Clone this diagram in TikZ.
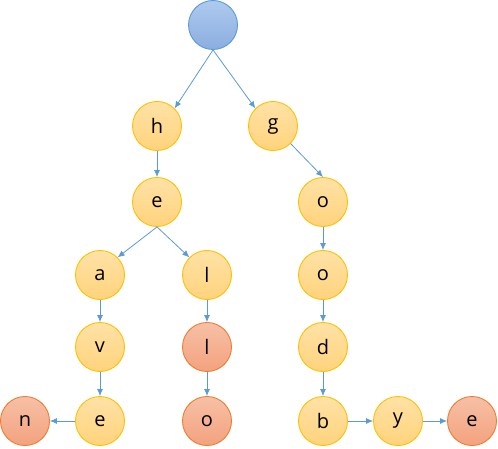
\documentclass[tikz,border=0pt]{standalone}
\usepackage{fontspec}
\setmainfont{Open Sans}
\usetikzlibrary{arrows.meta}
\definecolor{ybd}{HTML}{FFC000}
\definecolor{ytop}{HTML}{FFE2A6}
\definecolor{ybot}{HTML}{FFD37C}
\definecolor{rbd}{HTML}{ED7D31}
\definecolor{rtop}{HTML}{F7C0A6}
\definecolor{rbot}{HTML}{F3A27E}
\definecolor{bbd}{HTML}{5B9BD5}
\definecolor{btop}{HTML}{AECAEE}
\definecolor{bbot}{HTML}{8BADE0}
\definecolor{arr}{HTML}{5B9BD5}
\tikzset{
  base/.style={circle, minimum size=49pt, inner sep=0pt, line width=0.9pt, font=\fontsize{20}{24}\selectfont},
  ynode/.style={base, draw=ybd, top color=ytop, bottom color=ybot},
  rnode/.style={base, draw=rbd, top color=rtop, bottom color=rbot},
  bnode/.style={base, draw=bbd, top color=btop, bottom color=bbot},
  conn/.style={draw=arr, line width=0.8pt, -{Latex[length=7pt,width=6pt]}}
}
\begin{document}
\begin{tikzpicture}[x=1pt,y=-1pt]
\useasboundingbox (0,0) rectangle (498,449);
\node[bnode] (root) at (213,25) {};
\node[ynode] (h) at (157,126) {h};
\node[ynode] (g) at (273,126) {g};
\node[ynode] (e1) at (157,202) {e};
\node[ynode] (o1) at (323,202) {o};
\node[ynode] (a) at (100,275) {a};
\node[ynode] (l1) at (207,275) {l};
\node[ynode] (o2) at (323,275) {o};
\node[ynode] (v) at (100,347) {v};
\node[rnode] (l2) at (207,347) {l};
\node[ynode] (d) at (323,347) {d};
\node[rnode] (n) at (25,421) {n};
\node[ynode] (e2) at (100,421) {e};
\node[rnode] (o3) at (207,421) {o};
\node[ynode] (b) at (323,421) {b};
\node[ynode] (y) at (398,421) {y};
\node[rnode] (e3) at (472,421) {e};
\draw[conn] (root.south) -- (h.north east);
\draw[conn] (root.south) -- (g.north west);
\draw[conn] (h) -- (e1);
\draw[conn] (g.south east) -- (o1.north);
\draw[conn] (e1.south) -- (a.north east);
\draw[conn] (e1.south) -- (l1.north west);
\draw[conn] (o1) -- (o2);
\draw[conn] (a) -- (v);
\draw[conn] (l1) -- (l2);
\draw[conn] (o2) -- (d);
\draw[conn] (v) -- (e2);
\draw[conn] (l2) -- (o3);
\draw[conn] (d) -- (b);
\draw[conn] (e2) -- (n);
\draw[conn] (b) -- (y);
\draw[conn] (y) -- (e3);
\end{tikzpicture}
\end{document}
